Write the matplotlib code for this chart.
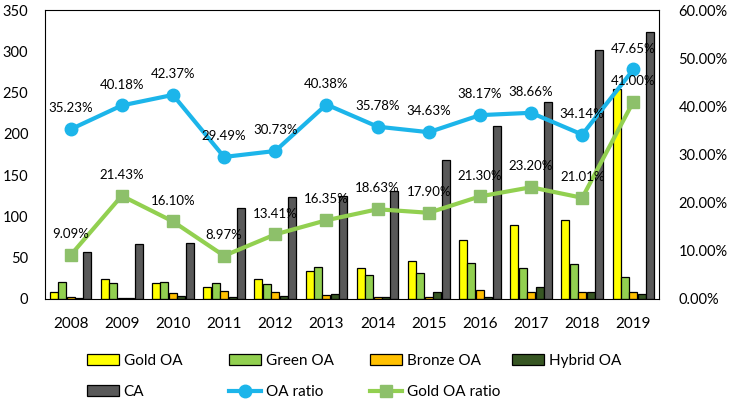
import numpy as np
import matplotlib.pyplot as plt

plt.rcParams['font.family'] = ['Lato', 'DejaVu Sans']

years = ['2008', '2009', '2010', '2011', '2012', '2013', '2014', '2015', '2016', '2017', '2018', '2019']
gold_oa = [8, 24, 19, 14, 24, 34, 38, 46, 72, 90, 96, 254]
green_oa = [20, 19, 20, 19, 18, 39, 29, 32, 44, 37, 42, 27]
bronze_oa = [2, 1, 7, 10, 9, 5, 3, 3, 11, 8, 9, 8]
hybrid_oa = [1, 1, 4, 3, 4, 6, 3, 8, 2, 15, 9, 6]
ca = [57, 67, 68, 110, 124, 125, 131, 168, 209, 238, 301, 323]
oa_ratio = [35.23, 40.18, 42.37, 29.49, 30.73, 40.38, 35.78, 34.63, 38.17, 38.66, 34.14, 47.65]
gold_ratio = [9.09, 21.43, 16.10, 8.97, 13.41, 16.35, 18.63, 17.90, 21.30, 23.20, 21.01, 41.00]

W, H = 731, 404
fig = plt.figure(figsize=[W / 100, H / 100], dpi=100)
ax = fig.add_axes([45 / W, 1 - 299 / H, 614 / W, 289 / H])
x = np.arange(len(years))
w = 0.165

bar_series = [
    (gold_oa, '#FFFF00', 'Gold OA'),
    (green_oa, '#92D050', 'Green OA'),
    (bronze_oa, '#FFC000', 'Bronze OA'),
    (hybrid_oa, '#375623', 'Hybrid OA'),
    (ca, '#595959', 'CA'),
]
handles = []
for i, (vals, col, lab) in enumerate(bar_series):
    h = ax.bar(x + (i - 2) * w, vals, w * 0.95, color=col, edgecolor='black', lw=0.9, label=lab, zorder=2)
    handles.append(h)

ax.set_xlim(-0.5, len(years) - 0.5)
ax.set_ylim(0, 350)
ax.set_yticks(np.arange(0, 351, 50))
ax.set_xticks(x)
ax.set_xticklabels(years)
ax.tick_params(axis='y', length=0, labelsize=10.5, pad=12)
ax.tick_params(axis='x', length=0, labelsize=11, pad=13)
for s in ax.spines.values():
    s.set_color('black')
    s.set_linewidth(0.8)

ax2 = ax.twinx()
ax2.set_ylim(0, 60)
ax2.set_yticks(np.arange(0, 61, 10))
ax2.set_yticklabels(['%.2f%%' % v for v in np.arange(0, 61, 10)])
ax2.tick_params(length=0, labelsize=10.5, pad=14)
for s in ax2.spines.values():
    s.set_visible(False)

l1, = ax2.plot(x, oa_ratio, color='#1CB5EA', lw=3, marker='o', ms=9, label='OA ratio', zorder=3)
l2, = ax2.plot(x, gold_ratio, color='#92D050', lw=3, marker='s', ms=9, mfc='#8DC06A', mec='#8DC06A',
               label='Gold OA ratio', zorder=3)
handles += [l1, l2]

for xi, v in zip(x, oa_ratio):
    ax2.annotate('%.2f%%' % v, (xi, v), xytext=(0, 15), textcoords='offset points', ha='center', va='center', fontsize=9.5)
for xi, v in zip(x, gold_ratio):
    ax2.annotate('%.2f%%' % v, (xi, v), xytext=(0, 15), textcoords='offset points', ha='center', va='center', fontsize=9.5)

# legend laid out on Excel's fixed grid, one entry at a time
leg_x = [87, 229, 370, 512]
leg_y = [361, 392]
for k, h in enumerate(handles):
    px = leg_x[k % 4]
    py = leg_y[k // 4]
    fig.legend(handles=[h], loc='center left', bbox_to_anchor=(px / W, 1 - py / H), frameon=False,
               fontsize=11, handlelength=2.1, handletextpad=0.3, borderpad=0, borderaxespad=0)

fig.savefig('out.png', dpi=100)
